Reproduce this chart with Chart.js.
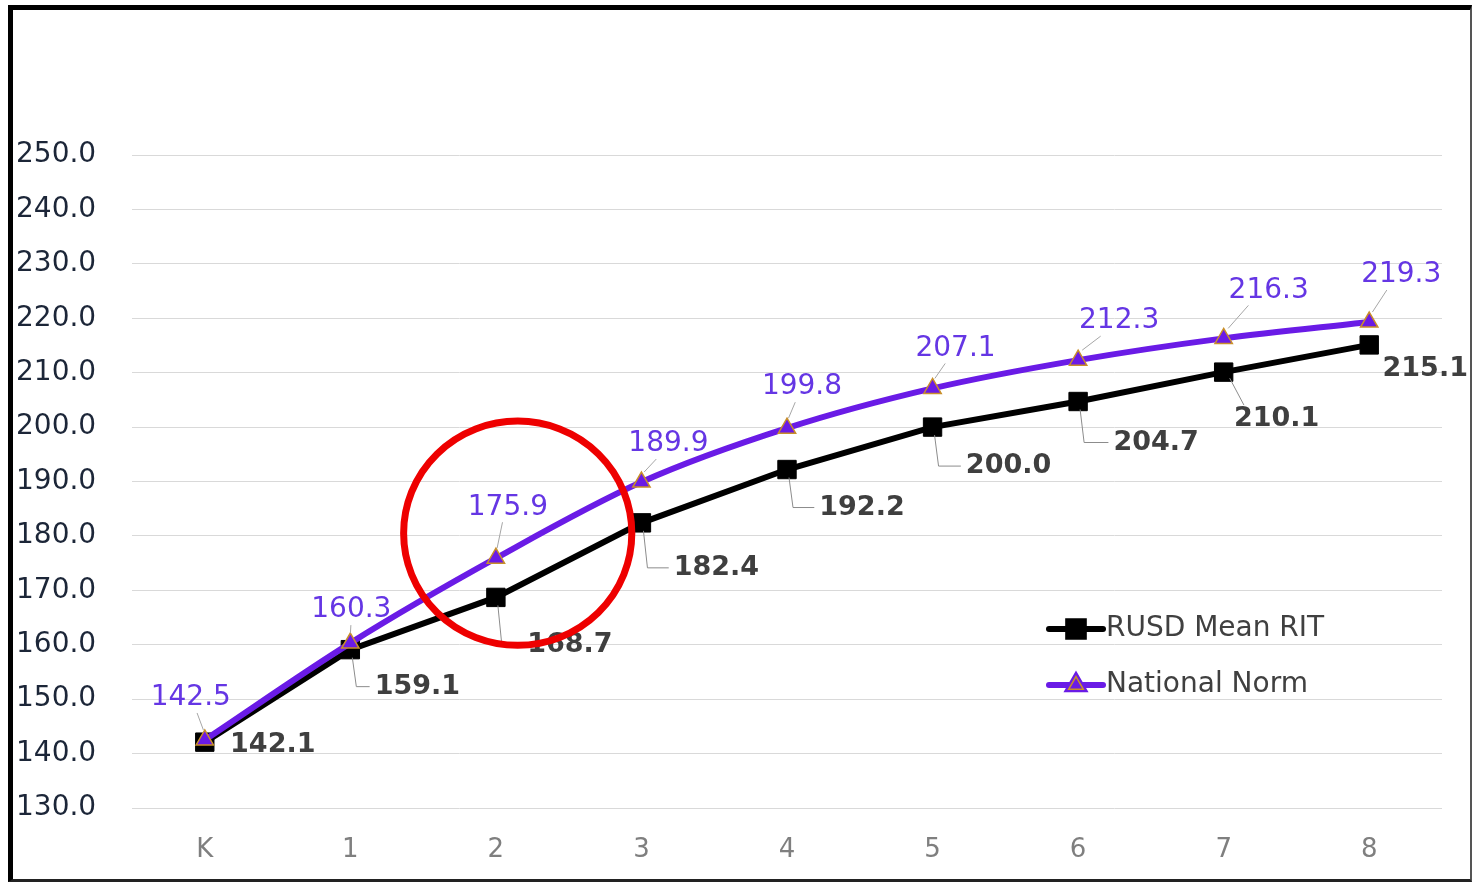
<!DOCTYPE html>
<html>
<head>
<meta charset="utf-8">
<script src="https://cdn.jsdelivr.net/npm/chart.js@4"></script>
<style>
  html, body { margin: 0; padding: 0; background: #fff; }
  #frame {
    position: absolute; left: 8px; top: 5px;
    width: 1464px; height: 877px; box-sizing: border-box;
    border-left: 5px solid #000; border-top: 5px solid #000;
    border-right: 2px solid #555; border-bottom: 3px solid #222;
    background: #fff;
  }
  #wrap { position: relative; width: 1457px; height: 869px; }
</style>
</head>
<body>
<div id="frame"><div id="wrap"><canvas id="chart"></canvas></div></div>
<script>
const grades = ['K', '1', '2', '3', '4', '5', '6', '7', '8'];
const rusdMean = [142.1, 159.1, 168.7, 182.4, 192.2, 200.0, 204.7, 210.1, 215.1];
const nationalNorm = [142.5, 160.3, 175.9, 189.9, 199.8, 207.1, 212.3, 216.3, 219.3];
const yMin = 130;
const yMax = 250;

// label placement relative to each point (px)
const rusdLabelOffset = [[68, 3], [67, 37], [74, 48], [75, 45], [75, 38], [76, 39], [78, 41], [53, 47], [56, 24]];
const normLabelOffset = [[-14, -42], [1, -33], [12, -51], [27, -38], [15, -41], [23, -40], [41, -39], [45, -48], [32, -47]];

const BLACK = '#000000';
const PURPLE = '#6a1be6';
const TRI_EDGE = '#c98f2a';

const labelPlugin = {
    id: 'pointLabels',
    afterDatasetsDraw(chart) {
        const ctx = chart.ctx;
        ctx.save();
        // National Norm labels
        const normMeta = chart.getDatasetMeta(1);
        ctx.font = '28px "DejaVu Sans"';
        ctx.textAlign = 'center';
        ctx.textBaseline = 'middle';
        normMeta.data.forEach((pt, i) => {
            const [dx, dy] = normLabelOffset[i];
            const lx = pt.x + dx, ly = pt.y + dy;
            ctx.strokeStyle = '#a6a6a6';
            ctx.lineWidth = 1;
            ctx.beginPath();
            ctx.moveTo(pt.x + dx * 0.1, pt.y - 10);
            ctx.lineTo(pt.x + dx * 0.55, ly + 15);
            ctx.stroke();
            ctx.fillStyle = '#6536e4';
            ctx.fillText(nationalNorm[i].toFixed(1), lx, ly);
        });
        // RUSD labels
        const rusdMeta = chart.getDatasetMeta(0);
        ctx.font = 'bold 27px "DejaVu Sans"';
        rusdMeta.data.forEach((pt, i) => {
            const [dx, dy] = rusdLabelOffset[i];
            const lx = pt.x + dx, ly = pt.y + dy;
            const txt = rusdMean[i].toFixed(1);
            const left = lx - ctx.measureText(txt).width / 2;
            ctx.strokeStyle = '#8c8c8c';
            ctx.lineWidth = 1;
            if (i === 7) {
                ctx.beginPath();
                ctx.moveTo(pt.x + 6, pt.y + 6);
                ctx.lineTo(left + 10, ly - 14);
                ctx.stroke();
            } else if (Math.abs(dy) > 30) {
                ctx.beginPath();
                ctx.moveTo(pt.x + 2, pt.y + 8);
                ctx.lineTo(pt.x + 6, ly);
                ctx.lineTo(left - 5, ly);
                ctx.stroke();
            }
            ctx.fillStyle = '#3f3f3f';
            ctx.fillText(txt, lx, ly);
        });
        ctx.restore();
    },
    afterDraw(chart) {
        const ctx = chart.ctx;
        const x = chart.scales.x, y = chart.scales.y;
        ctx.save();
        // red highlight circle around grade 2
        const cx = x.getPixelForValue(2.15);
        const cy = y.getPixelForValue(180.5);
        const r = y.getPixelForValue(160) - y.getPixelForValue(180.6);
        ctx.strokeStyle = '#ee0000';
        ctx.lineWidth = 7;
        ctx.beginPath();
        ctx.ellipse(cx, cy, r + 2, r, 0, 0, Math.PI * 2);
        ctx.stroke();

        // legend inside plot, lower right
        const items = [chart.data.datasets[0], chart.data.datasets[1]];
        const lx0 = x.getPixelForValue(5.8);
        const rowY = [y.getPixelForValue(162.9), y.getPixelForValue(152.6)];
        ctx.font = '28px "DejaVu Sans"';
        ctx.textBaseline = 'middle';
        ctx.textAlign = 'left';
        items.forEach((ds, i) => {
            const yy = rowY[i];
            ctx.strokeStyle = ds.borderColor;
            ctx.lineWidth = ds.borderWidth;
            ctx.lineCap = 'round';
            ctx.beginPath();
            ctx.moveTo(lx0, yy);
            ctx.lineTo(lx0 + 54, yy);
            ctx.stroke();
            ctx.lineCap = 'butt';
            Chart.helpers.drawPoint(ctx, {
                pointStyle: ds.pointStyle,
                radius: ds.pointRadius * 0.85,
                borderWidth: ds.pointBorderWidth
            }, lx0 + 27, yy);
            ctx.fillStyle = ds.pointBackgroundColor;
            ctx.strokeStyle = ds.pointBorderColor;
            ctx.lineWidth = ds.pointBorderWidth;
            ctx.fill();
            ctx.stroke();
            ctx.fillStyle = '#404040';
            ctx.fillText(ds.label, lx0 + 57, yy);
        });
        ctx.restore();
    }
};

new Chart(document.getElementById('chart'), {
    type: 'line',
    data: {
        labels: grades,
        datasets: [
            {
                label: 'RUSD Mean RIT',
                data: rusdMean,
                borderColor: BLACK,
                backgroundColor: BLACK,
                borderWidth: 6,
                pointStyle: 'rect',
                pointRadius: 13,
                pointBackgroundColor: BLACK,
                pointBorderColor: BLACK,
                pointBorderWidth: 1,
                tension: 0,
                order: 1
            },
            {
                label: 'National Norm',
                data: nationalNorm,
                borderColor: PURPLE,
                backgroundColor: PURPLE,
                borderWidth: 6,
                pointStyle: 'triangle',
                pointRadius: 10,
                pointBackgroundColor: PURPLE,
                pointBorderColor: TRI_EDGE,
                pointBorderWidth: 1.5,
                cubicInterpolationMode: 'monotone',
                tension: 0.2,
                order: 0
            }
        ]
    },
    options: {
        responsive: true,
        maintainAspectRatio: false,
        animation: false,
        layout: { padding: { left: 3, right: 28, top: 145, bottom: 0 } },
        plugins: {
            legend: { display: false },
            tooltip: { enabled: false }
        },
        scales: {
            x: {
                offset: true,
                grid: { display: false },
                border: { display: false },
                ticks: {
                    color: '#7f7f7f',
                    font: { family: 'DejaVu Sans', size: 26 },
                    padding: 19
                },
                afterFit(s) { s.height = 71; }
            },
            y: {
                min: yMin,
                max: yMax,
                grid: { color: '#d9d9d9', lineWidth: 1, drawTicks: false },
                border: { display: false },
                ticks: {
                    stepSize: 10,
                    crossAlign: 'far',
                    color: '#1c2638',
                    font: { family: 'DejaVu Sans', size: 28 },
                    callback: v => v.toFixed(1)
                },
                afterFit(s) { s.width = 116; }
            }
        }
    },
    plugins: [labelPlugin]
});
</script>
</body>
</html>
